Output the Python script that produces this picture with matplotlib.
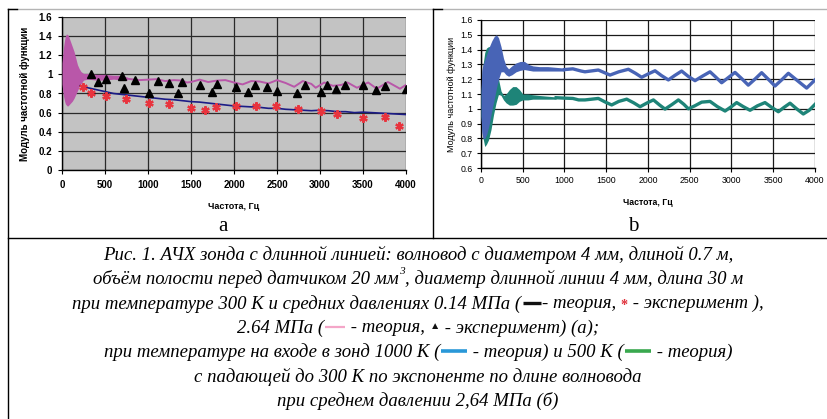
import matplotlib
matplotlib.use('Agg')
import matplotlib.pyplot as plt
from matplotlib.lines import Line2D

# ---------------- data: panel a ----------------
pink_env_f  = [0, 10, 20, 30, 40, 50, 60, 70, 80, 100, 120, 140, 160, 180, 200, 220, 250, 300, 400, 500, 600, 700, 760]
pink_env_hi = [1.12, 1.22, 1.30, 1.36, 1.40, 1.42, 1.42, 1.41, 1.39, 1.34, 1.29, 1.24, 1.17, 1.10, 1.06, 1.03, 1.01, 1.01, 1.00, 1.00, 0.99, 0.99, 0.97]
pink_env_lo = [0.90, 0.82, 0.76, 0.72, 0.69, 0.68, 0.67, 0.67, 0.68, 0.70, 0.72, 0.75, 0.79, 0.83, 0.87, 0.90, 0.94, 0.95, 0.94, 0.94, 0.95, 0.94, 0.94]

pink_f = [760, 800, 900, 1000, 1100, 1200, 1300, 1400, 1450, 1500, 1600, 1700, 1800, 1900,
          2000, 2100, 2200, 2300, 2400, 2500, 2600, 2700, 2800, 2900, 2950, 3050, 3150, 3250,
          3320, 3430, 3560, 3660, 3790, 3930, 4000]
pink_v = [0.955, 0.95, 0.94, 0.945, 0.95, 0.93, 0.94, 0.935, 0.915, 0.92, 0.945, 0.92, 0.935, 0.94,
          0.915, 0.895, 0.93, 0.925, 0.905, 0.94, 0.91, 0.87, 0.93, 0.90, 0.86, 0.915, 0.88, 0.89,
          0.915, 0.86, 0.915, 0.85, 0.92, 0.85, 0.89]

navy_f = [210, 300, 400, 500, 600, 700, 800, 900, 1000, 1100, 1200, 1300, 1400, 1500, 1600, 1700,
          1800, 1900, 2000, 2100, 2200, 2300, 2400, 2500, 2600, 2700, 2800, 2900, 3000, 3100,
          3200, 3300, 3400, 3500, 3600, 3700, 3800, 3900, 4000]
navy_v = [0.88, 0.86, 0.84, 0.82, 0.80, 0.79, 0.78, 0.77, 0.76, 0.75, 0.74, 0.735, 0.725, 0.715, 0.71, 0.70,
          0.69, 0.68, 0.67, 0.665, 0.66, 0.655, 0.645, 0.645, 0.635, 0.63, 0.625, 0.62, 0.625, 0.62,
          0.61, 0.61, 0.60, 0.605, 0.60, 0.595, 0.59, 0.585, 0.58]

exp014_f = [248, 333, 512, 744, 1016, 1248, 1504, 1667, 1791, 2023, 2256, 2488, 2744, 3016, 3202, 3504, 3752, 3919]
exp014_v = [0.87, 0.81, 0.77, 0.74, 0.70, 0.69, 0.65, 0.63, 0.66, 0.67, 0.67, 0.67, 0.635, 0.62, 0.59, 0.54, 0.55, 0.46]

exp264_f = [341, 415, 512, 701, 725, 849, 1016, 1112, 1248, 1349, 1399, 1609, 1748, 1798, 2027, 2163,
            2244, 2380, 2500, 2729, 2829, 3008, 3085, 3190, 3287, 3504, 3647, 3756, 4000]
exp264_v = [1.004, 0.92, 0.955, 0.98, 0.86, 0.94, 0.80, 0.935, 0.905, 0.80, 0.92, 0.885, 0.815, 0.90, 0.87, 0.815,
            0.885, 0.87, 0.83, 0.805, 0.885, 0.82, 0.885, 0.845, 0.885, 0.885, 0.835, 0.875, 0.85]

a_xticks = [0, 500, 1000, 1500, 2000, 2500, 3000, 3500, 4000]
a_yticks = [0, 0.2, 0.4, 0.6, 0.8, 1.0, 1.2, 1.4, 1.6]
a_ylabels = ['0', '0.2', '0.4', '0.6', '0.8', '1', '1.2', '1.4', '1.6']

# ---------------- data: panel b ----------------
blue_env_f  = [0, 10, 25, 45, 70, 100, 130, 160, 185, 210, 240, 270, 300, 330, 370, 420, 470, 520, 570, 620, 700, 800, 900, 1000]
blue_env_hi = [1.12, 1.26, 1.30, 1.33, 1.37, 1.42, 1.46, 1.49, 1.50, 1.48, 1.42, 1.34, 1.29, 1.27, 1.29, 1.31, 1.32, 1.32, 1.30, 1.29, 1.285, 1.285, 1.28, 1.275]
blue_env_lo = [0.95, 0.84, 0.80, 0.80, 0.83, 0.90, 0.99, 1.07, 1.14, 1.20, 1.25, 1.25, 1.23, 1.22, 1.23, 1.25, 1.26, 1.265, 1.26, 1.255, 1.255, 1.255, 1.255, 1.255]

blue_f = [1000, 1100, 1200, 1245, 1405, 1545, 1650, 1765, 1850, 1924, 2000, 2084, 2160, 2244, 2320,
          2403, 2480, 2563, 2650, 2743, 2810, 2882, 2960, 3042, 3120, 3201, 3280, 3361, 3440, 3521,
          3600, 3681, 3790, 3900, 4000]
blue_v = [1.265, 1.27, 1.255, 1.25, 1.262, 1.228, 1.25, 1.267, 1.24, 1.213, 1.235, 1.257, 1.225, 1.195, 1.225,
          1.255, 1.22, 1.19, 1.22, 1.25, 1.215, 1.176, 1.21, 1.246, 1.205, 1.16, 1.2, 1.244, 1.2, 1.154,
          1.195, 1.24, 1.19, 1.14, 1.195]

green_env_f  = [0, 10, 25, 45, 65, 90, 120, 150, 180, 210, 240, 270, 300, 340, 380, 420, 460, 500, 560, 620, 700, 800, 900]
green_env_hi = [1.10, 1.22, 1.30, 1.38, 1.41, 1.42, 1.42, 1.38, 1.30, 1.20, 1.12, 1.09, 1.10, 1.13, 1.15, 1.15, 1.13, 1.10, 1.10, 1.095, 1.09, 1.085, 1.08]
green_env_lo = [0.95, 0.88, 0.80, 0.745, 0.76, 0.79, 0.86, 0.96, 1.04, 1.10, 1.09, 1.06, 1.04, 1.025, 1.025, 1.03, 1.05, 1.06, 1.06, 1.065, 1.065, 1.065, 1.065]

green_f = [900, 1000, 1100, 1170, 1245, 1405, 1490, 1565, 1650, 1745, 1830, 1905, 1990, 2065, 2140, 2204,
           2290, 2364, 2430, 2483, 2560, 2643, 2743, 2830, 2923, 3000, 3062, 3140, 3222, 3310, 3401,
           3480, 3561, 3630, 3701, 3780, 3860, 3930, 4000]
green_v = [1.075, 1.072, 1.07, 1.06, 1.06, 1.07, 1.045, 1.026, 1.05, 1.065, 1.04, 1.014, 1.04, 1.06, 1.025, 0.998,
           1.03, 1.06, 1.03, 1.0, 1.02, 1.045, 1.05, 1.015, 0.985, 1.015, 1.042, 1.015, 0.99, 1.02, 1.042,
           1.01, 0.98, 1.01, 1.038, 1.0, 0.965, 0.99, 1.03]

b_xticks = [0, 500, 1000, 1500, 2000, 2500, 3000, 3500, 4000]
b_yticks = [0.6, 0.7, 0.8, 0.9, 1.0, 1.1, 1.2, 1.3, 1.4, 1.5, 1.6]
b_ylabels = ['0.6', '0.7', '0.8', '0.9', '1', '1.1', '1.2', '1.3', '1.4', '1.5', '1.6']

xlabel = 'Частота, Гц'
ylabel = 'Модуль частотной функции'

caption_lines = [
    [('t', 'Рис. 1. АЧХ зонда с длинной линией: волновод с диаметром 4 мм, длиной 0.7 м,')],
    [('t', 'объём полости перед датчиком 20 мм'), ('sup', '3'), ('t', ', диаметр длинной линии 4 мм, длина 30 м')],
    [('t', 'при температуре 300 К и средних давлениях 0.14 МПа ('), ('l', '#111111', 20, 2.4),
     ('t', '- теория, '), ('m', '*', '#e0303a'), ('t', ' - эксперимент ),')],
    [('t', '2.64 МПа ('), ('l', '#f4a6c8', 22, 1.6), ('t', ' - теория, '), ('m', '▲', '#111111'),
     ('t', ' - эксперимент) (а);')],
    [('t', 'при температуре на входе в зонд 1000 К ('), ('l', '#2a98d8', 28, 2.6),
     ('t', ' - теория) и 500 К ('), ('l', '#39a84e', 28, 2.6), ('t', ' - теория)')],
    [('t', 'с падающей до 300 К по экспоненте по длине волновода')],
    [('t', 'при среднем давлении 2,64 МПа (б)')],
]

# ---------------- figure ----------------
W, H = 828, 419
fig = plt.figure(figsize=(W / 100, H / 100), dpi=100)
SANS = ['Liberation Sans', 'DejaVu Sans']
SERIF = ['Liberation Serif', 'DejaVu Serif', 'DejaVu Sans']


def fx(px):
    return px / W


def fy(py):
    return 1 - py / H


pink = '#b957a9'
navy = '#1c1c86'
red = '#e8343e'
blue = '#4864b6'
teal = '#1e8478'

# ----- panel a -----
axa = fig.add_axes([fx(62), fy(170), (406 - 62) / W, (170 - 17) / H])
axa.set_facecolor('#c3c3c3')
axa.set_xlim(0, 4000)
axa.set_ylim(0, 1.6)
axa.set_xticks(a_xticks)
axa.set_yticks(a_yticks)
axa.set_yticklabels(a_ylabels)
axa.grid(True, color='#2a2a2a', lw=0.9)
axa.set_axisbelow(True)
for lab in axa.get_xticklabels() + axa.get_yticklabels():
    lab.set_fontfamily(SANS)
    lab.set_fontweight('bold')
    lab.set_fontsize(7)
axa.tick_params(length=3, width=0.8, pad=4)
for s in ['top', 'right']:
    axa.spines[s].set_visible(False)
for s in ['left', 'bottom']:
    axa.spines[s].set_linewidth(1.0)
axa.fill_between(pink_env_f, pink_env_lo, pink_env_hi, color=pink, lw=0, zorder=3)
axa.plot(pink_f, pink_v, color=pink, lw=1.4, zorder=3)
axa.plot(navy_f, navy_v, color=navy, lw=1.2, zorder=3)
axa.plot(exp014_f, exp014_v, ls='none', marker=(6, 2, 0), ms=6, mew=1.6, color=red, zorder=4)
axa.plot(exp264_f, exp264_v, ls='none', marker='^', ms=5.8, color='black', zorder=4)
axa.set_xlabel(xlabel, fontsize=6.5, fontweight='bold', family=SANS, labelpad=9)
axa.set_ylabel(ylabel, fontsize=7, fontweight='bold', family=SANS, labelpad=6)

# ----- panel b -----
axb = fig.add_axes([fx(481), fy(168), (815 - 481) / W, (168 - 20) / H])
axb.set_facecolor('white')
axb.set_xlim(0, 4000)
axb.set_ylim(0.6, 1.6)
axb.set_xticks(b_xticks)
axb.set_yticks(b_yticks)
axb.set_yticklabels(b_ylabels)
axb.grid(True, color='#1a1a1a', lw=0.9)
axb.set_axisbelow(True)
for lab in axb.get_xticklabels() + axb.get_yticklabels():
    lab.set_fontfamily(SANS)
    lab.set_fontsize(6.3)
axb.tick_params(length=3, width=0.8, pad=3)
for s in ['top', 'right']:
    axb.spines[s].set_visible(False)
for s in ['left', 'bottom']:
    axb.spines[s].set_linewidth(1.0)
axb.fill_between(green_env_f, green_env_lo, green_env_hi, color=teal, lw=0, zorder=3)
axb.plot(green_f, green_v, color=teal, lw=2.4, zorder=3)
axb.fill_between(blue_env_f, blue_env_lo, blue_env_hi, color=blue, lw=0, zorder=4)
axb.plot(blue_f, blue_v, color=blue, lw=2.4, zorder=4)
axb.set_xlabel(xlabel, fontsize=6.3, fontweight='bold', family=SANS, labelpad=9)
axb.set_ylabel(ylabel, fontsize=6.5, family=SANS, labelpad=3)

# ----- panel letters -----
fig.text(fx(223), fy(226), 'а', fontsize=15, family=SERIF, ha='center', va='center')
fig.text(fx(633), fy(226), 'b', fontsize=15, family=SERIF, ha='center', va='center')

# ----- frame lines -----
def hline(x0, x1, y, color='black', lw=1.0):
    fig.add_artist(Line2D([fx(x0), fx(x1)], [fy(y), fy(y)], color=color, lw=lw))


def vline(x, y0, y1, color='black', lw=1.0):
    fig.add_artist(Line2D([fx(x), fx(x)], [fy(y0), fy(y1)], color=color, lw=lw))


hline(8, 828, 9, color='#b4b4b4', lw=1.0)
hline(8, 17, 9)
hline(433, 442, 9)
vline(8, 9, 419)
vline(433, 9, 238)
hline(8, 828, 238)

# ----- caption -----
renderer = fig.canvas.get_renderer()
probe = fig.text(0, 0, caption_lines[0][0][1], fontsize=12, family=SERIF, style='italic')
w12 = probe.get_window_extent(renderer).width
probe.remove()
cap_size = 12 * 630.0 / w12

cap_y0 = 253
cap_dy = 24.3
for i, segs in enumerate(caption_lines):
    yc = cap_y0 + i * cap_dy
    items = []
    total = 0.0
    for seg in segs:
        kind = seg[0]
        if kind in ('t', 'sup', 'm'):
            if kind == 't':
                t = fig.text(0, fy(yc), seg[1], fontsize=cap_size, family=SERIF, style='italic',
                             ha='left', va='center_baseline')
            elif kind == 'sup':
                t = fig.text(0, fy(yc - 7), seg[1], fontsize=cap_size * 0.6, family=SERIF,
                             style='italic', ha='left', va='center_baseline')
            else:
                fs = cap_size * (0.75 if seg[1] == '*' else 0.55)
                yy = yc + (2 if seg[1] == '*' else 0)
                t = fig.text(0, fy(yy), seg[1], fontsize=fs, family=SERIF, color=seg[2],
                             ha='left', va='center_baseline', fontweight='bold')
            w = t.get_window_extent(renderer).width
            items.append((t, w))
            total += w
        else:
            items.append((seg, seg[2]))
            total += seg[2]
    x = 418 - total / 2.0
    for obj, w in items:
        if isinstance(obj, tuple):
            _, col, length, lw = obj
            fig.add_artist(Line2D([fx(x + 1), fx(x + length - 1)], [fy(yc + 1), fy(yc + 1)],
                                  color=col, lw=lw, solid_capstyle='butt'))
        else:
            obj.set_x(fx(x))
        x += w

fig.savefig('out.png', dpi=100)
